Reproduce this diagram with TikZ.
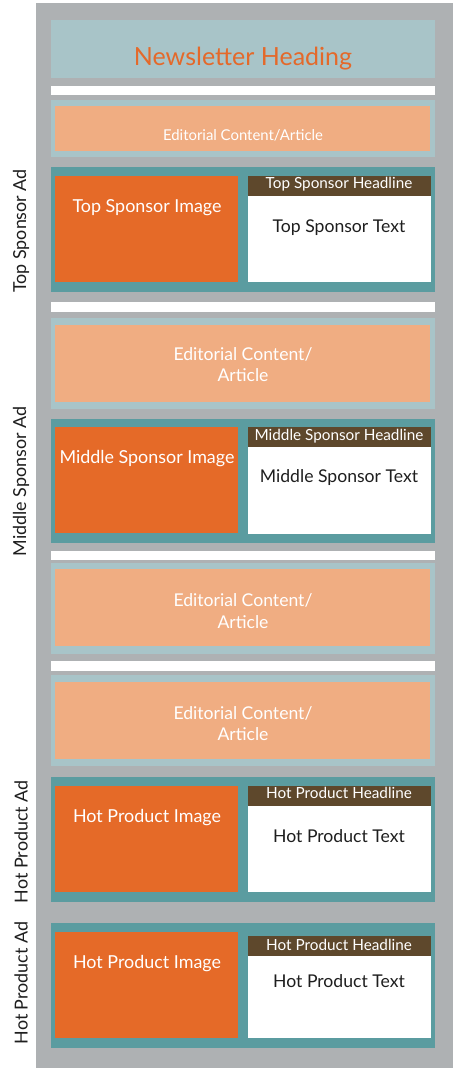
\documentclass[tikz,border=0pt]{standalone}
\usepackage{fontspec}
\setmainfont{Lato}
\definecolor{bggray}{HTML}{AEB1B3}
\definecolor{paleblue}{HTML}{A8C4C8}
\definecolor{headorange}{HTML}{E4692A}
\definecolor{lightorange}{HTML}{F0AD82}
\definecolor{tealc}{HTML}{5B9CA0}
\definecolor{imgorange}{HTML}{E56A28}
\definecolor{brownc}{HTML}{5E482C}
\definecolor{darktext}{HTML}{1E1E1E}
\newcommand{\fsz}[1]{\fontsize{#1}{#1}\selectfont}
\tikzset{
  blk/.style={inner sep=0pt, outer sep=0pt, anchor=north west, draw=none},
  bgbox/.style={blk, fill=bggray},
  headbox/.style={blk, fill=paleblue},
  wbar/.style={blk, fill=white},
  edout/.style={blk, fill=paleblue},
  edin/.style={blk, fill=lightorange},
  adout/.style={blk, fill=tealc},
  imgbox/.style={blk, fill=imgorange},
  txtbox/.style={blk, fill=white},
  hlbox/.style={blk, fill=brownc},
  headtxt/.style={anchor=base, inner sep=0pt, text=headorange, font=\fsz{25}},
  edsmall/.style={anchor=base, inner sep=0pt, text=white, font=\fsz{14.9}},
  edbig/.style={anchor=base, inner sep=0pt, text=white, font=\fsz{17.6}},
  hltxt/.style={anchor=base, inner sep=0pt, text=white, font=\fsz{15.3}},
  imgtxt/.style={anchor=base, inner sep=0pt, text=white, font=\fsz{17.9}},
  bodytxt/.style={anchor=base, inner sep=0pt, text=darktext, font=\fsz{17.6}},
  sidelbl/.style={anchor=center, inner sep=0pt, text=darktext, rotate=90, font=\fsz{17.9}},
}
\begin{document}
\begin{tikzpicture}[x=1pt,y=-1pt]
\useasboundingbox (0,0) rectangle (453,1068);
% background
\node[bgbox, minimum width=417pt, minimum height=1065pt] (bg) at (36,3) {};
% heading
\node[headbox, minimum width=384pt, minimum height=58pt] (head) at (51,20) {};
\node[headtxt] (headt) at (243,65) {Newsletter Heading};
% white bar 1
\node[wbar, minimum width=384pt, minimum height=9pt] (wb1) at (51,86) {};
% editorial 1
\node[edout, minimum width=384pt, minimum height=57pt] (ed1o) at (51,100) {};
\node[edin, minimum width=375pt, minimum height=45pt] (ed1i) at (55,106) {};
\node[edsmall] (ed1t) at (243,140) {Editorial Content/Article};
% top sponsor ad
\node[adout, minimum width=384pt, minimum height=125pt] (ad1) at (51,167) {};
\node[imgbox, minimum width=183pt, minimum height=106pt] (ad1img) at (55,176) {};
\node[txtbox, minimum width=183pt, minimum height=106pt] (ad1txt) at (248,176) {};
\node[hlbox, minimum width=183pt, minimum height=20pt] (ad1hl) at (248,176) {};
\node[hltxt] (ad1hlt) at (339,188.3) {Top Sponsor Headline};
\node[imgtxt] (ad1imgt) at (147,212.3) {Top Sponsor Image};
\node[bodytxt] (ad1bt) at (339,232.3) {Top Sponsor Text};
\node[sidelbl] (lbl1) at (21,231) {Top Sponsor Ad};
% white bar 2
\node[wbar, minimum width=384pt, minimum height=10pt] (wb2) at (51,302) {};
% editorial 2
\node[edout, minimum width=384pt, minimum height=91pt] (ed2o) at (51,318) {};
\node[edin, minimum width=375pt, minimum height=77pt] (ed2i) at (55,325) {};
\node[edbig] (ed2t1) at (243,360) {Editorial Content/};
\node[edbig] (ed2t2) at (243,381.7) {Article};
% middle sponsor ad
\node[adout, minimum width=384pt, minimum height=124pt] (ad2) at (51,419) {};
\node[imgbox, minimum width=183pt, minimum height=106pt] (ad2img) at (55,427) {};
\node[txtbox, minimum width=183pt, minimum height=107pt] (ad2txt) at (248,427) {};
\node[hlbox, minimum width=183pt, minimum height=20pt] (ad2hl) at (248,427) {};
\node[hltxt] (ad2hlt) at (339,440) {Middle Sponsor Headline};
\node[imgtxt] (ad2imgt) at (147,463.3) {Middle Sponsor Image};
\node[bodytxt] (ad2bt) at (339,482.7) {Middle Sponsor Text};
\node[sidelbl] (lbl2) at (21,481.5) {Middle Sponsor Ad};
% white bar 3
\node[wbar, minimum width=384pt, minimum height=9pt] (wb3) at (51,551) {};
% editorial 3
\node[edout, minimum width=384pt, minimum height=91pt] (ed3o) at (51,563) {};
\node[edin, minimum width=375pt, minimum height=77pt] (ed3i) at (55,569) {};
\node[edbig] (ed3t1) at (243,606) {Editorial Content/};
\node[edbig] (ed3t2) at (243,628) {Article};
% white bar 4
\node[wbar, minimum width=384pt, minimum height=10pt] (wb4) at (51,661) {};
% editorial 4
\node[edout, minimum width=384pt, minimum height=91pt] (ed4o) at (51,675) {};
\node[edin, minimum width=375pt, minimum height=77pt] (ed4i) at (55,682) {};
\node[edbig] (ed4t1) at (243,719) {Editorial Content/};
\node[edbig] (ed4t2) at (243,740) {Article};
% hot product ad 1
\node[adout, minimum width=384pt, minimum height=125pt] (ad3) at (51,777) {};
\node[imgbox, minimum width=183pt, minimum height=106pt] (ad3img) at (55,786) {};
\node[txtbox, minimum width=183pt, minimum height=106pt] (ad3txt) at (248,786) {};
\node[hlbox, minimum width=183pt, minimum height=20pt] (ad3hl) at (248,786) {};
\node[hltxt] (ad3hlt) at (339,798.3) {Hot Product Headline};
\node[imgtxt] (ad3imgt) at (147,822.7) {Hot Product Image};
\node[bodytxt] (ad3bt) at (339,842.3) {Hot Product Text};
\node[sidelbl] (lbl3) at (21,841.7) {Hot Product Ad};
% hot product ad 2
\node[adout, minimum width=384pt, minimum height=125pt] (ad4) at (51,923) {};
\node[imgbox, minimum width=183pt, minimum height=106pt] (ad4img) at (55,932) {};
\node[txtbox, minimum width=183pt, minimum height=102pt] (ad4txt) at (248,936) {};
\node[hlbox, minimum width=183pt, minimum height=20pt] (ad4hl) at (248,936) {};
\node[hltxt] (ad4hlt) at (339,950) {Hot Product Headline};
\node[imgtxt] (ad4imgt) at (147,968.3) {Hot Product Image};
\node[bodytxt] (ad4bt) at (339,987.3) {Hot Product Text};
\node[sidelbl] (lbl4) at (21,983) {Hot Product Ad};
\end{tikzpicture}
\end{document}
